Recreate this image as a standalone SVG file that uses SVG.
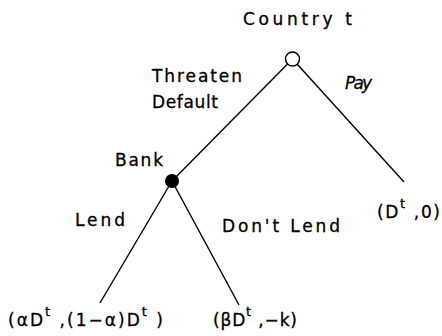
<svg xmlns="http://www.w3.org/2000/svg" width="442" height="336" viewBox="0 0 442 336">
<style>
text{font-family:"DejaVu Sans","Liberation Sans",Arial,sans-serif;font-size:17px;fill:#000;stroke:#000;stroke-width:0.3px}
.sup{font-size:13px}
.edge{stroke:#000;stroke-width:1.4;fill:none}
</style>
<rect width="442" height="336" fill="#fff"/>
<g id="connectors">
<line class="edge" x1="292.5" y1="59" x2="172" y2="181"/>
<line class="edge" x1="292.5" y1="59" x2="404" y2="182"/>
<line class="edge" x1="172" y1="181" x2="100" y2="303"/>
<line class="edge" x1="172" y1="181" x2="239" y2="305"/>
</g>
<g id="country">
<circle cx="292.5" cy="59" r="7" fill="#fff" stroke="#000" stroke-width="1.4"/>
<text x="243" y="25" textLength="109" lengthAdjust="spacing">Country  t</text>
</g>
<g id="bank">
<circle cx="172" cy="181" r="7" fill="#000"/>
<text x="115" y="166" textLength="48" lengthAdjust="spacing">Bank</text>
</g>
<g id="labels">
<text x="152" y="82" textLength="90" lengthAdjust="spacing">Threaten</text>
<text x="152" y="108" textLength="66" lengthAdjust="spacing">Default</text>
<text x="345" y="89" textLength="27" lengthAdjust="spacing" font-style="italic">Pay</text>
<text x="75" y="226" textLength="50" lengthAdjust="spacing">Lend</text>
<text x="222" y="232" textLength="118" lengthAdjust="spacing">Don't  Lend</text>
</g>
<g id="payoff-pay">
<text x="377" y="218" textLength="63" lengthAdjust="spacing">(D<tspan class="sup" dy="-10">t</tspan><tspan dy="10"> ,0)</tspan></text>
</g>
<g id="payoff-lend">
<text x="8" y="326" textLength="155" lengthAdjust="spacing">(αD<tspan class="sup" dy="-10">t</tspan><tspan dy="10"> ,(1−α)D</tspan><tspan class="sup" dy="-10">t</tspan><tspan dy="10"> )</tspan></text>
</g>
<g id="payoff-dontlend">
<text x="213" y="326" textLength="84" lengthAdjust="spacing">(βD<tspan class="sup" dy="-10">t</tspan><tspan dy="10"> ,−k)</tspan></text>
</g>
</svg>
